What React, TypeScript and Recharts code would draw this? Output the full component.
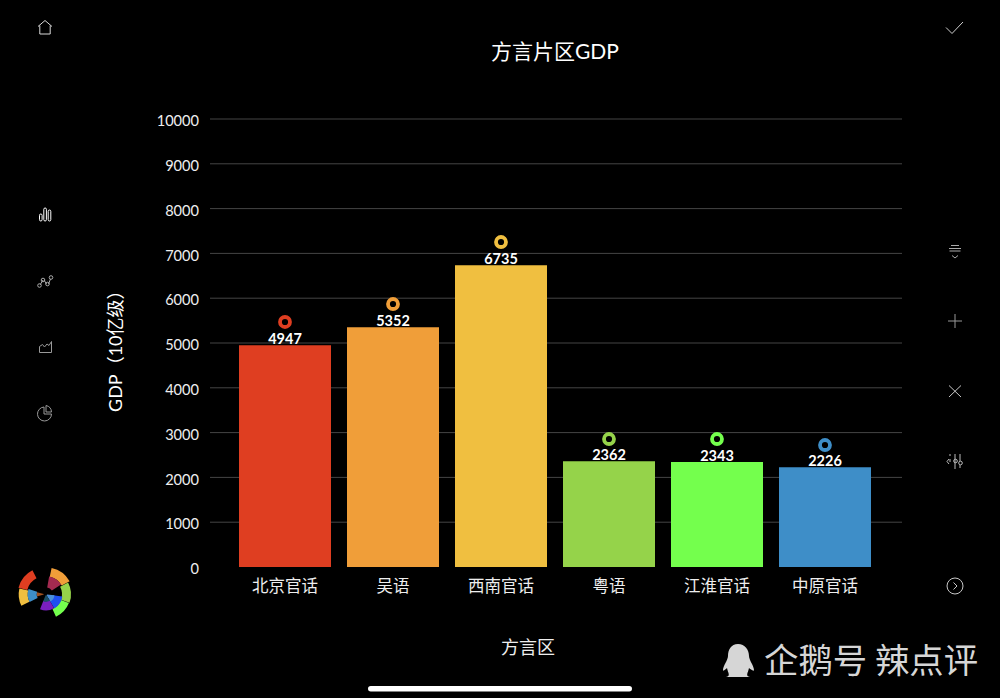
import React from 'react';
import { ComposedChart, Bar, Line, XAxis, YAxis, CartesianGrid, Cell, LabelList, Sector } from 'recharts';

const categories = ['北京官话', '吴语', '西南官话', '粤语', '江淮官话', '中原官话'];
const gdpValues = [4947, 5352, 6735, 2362, 2343, 2226];
const markerValues = [5469, 5870, 7254, 2857, 2857, 2723];
const barColors = ['#df3e21', '#f09e39', '#f0bf40', '#95d34a', '#74ff4d', '#3e8ec8'];
const yTicks = [0, 1000, 2000, 3000, 4000, 5000, 6000, 7000, 8000, 9000, 10000];
const gridValues = [1000, 2000, 3000, 4000, 5000, 6000, 7000, 8000, 9000, 10000];

const tableData = categories.map((name, i) => ({ name, gdp: gdpValues[i], marker: markerValues[i] }));

const FONT = "Lato, 'Noto Sans CJK SC', sans-serif";

const logoSectors = [
  { cx: 44.7, start: 117, end: 166, inner: 18, outer: 27, fill: '#df3e21' },
  { cx: 44.7, start: 167, end: 206, inner: 17, outer: 26, fill: '#f0bf40' },
  { cx: 44.7, start: 162, end: 207, inner: 8, outer: 17, fill: '#3e8ec8' },
  { cx: 44.7, start: 165, end: 196, inner: 1, outer: 8, fill: '#a0501f' },
  { cx: 46, start: 29, end: 78, inner: 18, outer: 27, fill: '#f09e39' },
  { cx: 46, start: -20, end: 28, inner: 16, outer: 25, fill: '#95d34a' },
  { cx: 46, start: -66, end: -21, inner: 16, outer: 24.5, fill: '#74ff4d' },
  { cx: 46, start: 33, end: 80, inner: 7, outer: 18, fill: '#a32a50' },
  { cx: 46, start: -60, end: -8, inner: 7, outer: 16.5, fill: '#1f50f0' },
  { cx: 46, start: -112, end: -60, inner: 7, outer: 16, fill: '#7a1fc0' },
  { cx: 46, start: -58, end: -6, inner: 1, outer: 8.5, fill: '#4a8fd8' },
  { cx: 46, start: -112, end: -60, inner: 1, outer: 7.5, fill: '#1b4f66' },
];

const iconStroke = { fill: 'none', stroke: '#d8d8d8', strokeWidth: 1 };

function Icons() {
  return (
    <svg width={1000} height={698} style={{ position: 'absolute', left: 0, top: 0 }}>
      <g {...iconStroke}>
        {/* home */}
        <path d="M38 26.5 L45 20.5 L52 26.5 M39.8 25.5 V34 H50.2 V25.5" />
        {/* check */}
        <path d="M946 27.5 L952 33.5 L963 22" stroke="#cfcfcf" />
        {/* bars */}
        <rect x={39.5} y={214} width={2.6} height={7} rx={1.3} stroke="#fff" />
        <rect x={43.8} y={208} width={2.6} height={13} rx={1.3} stroke="#fff" />
        <rect x={48.2} y={210} width={2.6} height={11} rx={1.3} stroke="#fff" />
        {/* line */}
        <path d="M40 285 L43 280 M44 280 L46.5 284 M48.5 284 L50.5 279" stroke="#aaa" />
        <circle cx={39.5} cy={285.5} r={1.8} stroke="#aaa" />
        <circle cx={43} cy={280} r={1.8} stroke="#aaa" />
        <circle cx={47.5} cy={284} r={1.8} stroke="#aaa" />
        <circle cx={51} cy={277.5} r={1.8} stroke="#aaa" />
        {/* area */}
        <path d="M39.5 352.5 V346.5 L42.5 344.5 L44.5 347 L47 344 L49 345.5 L51.5 341.5 V352.5 Z" stroke="#999" />
        {/* pie */}
        <path d="M44 407 A7 7 0 1 0 51.5 414 H44 Z" stroke="#999" />
        <path d="M46 405.5 A7 7 0 0 1 51.5 412 H46 Z" stroke="#999" />
        {/* right side */}
        <path d="M951 245.5 H959 M949 248.5 H961 M949.5 251 H960.5 M952 255.5 L955 258 L958 255.5" stroke="#aaa" />
        <path d="M948 321 H962 M955 314 V328" stroke="#999" />
        <path d="M949 385.5 L961 397 M961 385.5 L949 397" stroke="#c8c8c8" />
        <path d="M955 454 V469 M960 454 V461 M960 465 V468 M950 454 V456 M950 459 V462 M949 459 L947 461.5 L949 464" stroke="#bbb" />
        <circle cx={955.5} cy={461} r={1.8} stroke="#bbb" />
        <circle cx={960.5} cy={463} r={1.8} stroke="#bbb" />
        <circle cx={955} cy={586} r={8} stroke="#c8c8c8" />
        <path d="M953.5 582.5 L957 586 L953.5 589.5" stroke="#c8c8c8" />
      </g>
      <g>
        {logoSectors.map((s, i) => (
          <Sector
            key={i}
            cx={s.cx}
            cy={594.3}
            innerRadius={s.inner}
            outerRadius={s.outer}
            startAngle={s.start}
            endAngle={s.end}
            fill={s.fill}
          />
        ))}
      </g>
      <text x={555} y={59} textAnchor="middle" fill="#fff" fontSize={21} fontFamily={FONT}>方言片区GDP</text>
      <text x={528} y={654} textAnchor="middle" fill="#eee" fontSize={18} fontFamily={FONT}>方言区</text>
      {/* watermark */}
      <g fill="#d6d6d6">
        <path d="M738 643 C731 643 728 649 728 655 C728 659 723 665 723 669 C723 671 726 668 727 667 C728 672 731 675 726 676 H750 C745 675 748 672 749 667 C750 668 754 671 754 669 C754 665 749 659 749 655 C749 649 745 643 738 643 Z" transform="translate(0 1)" />
        <text x={764} y={673} fontSize={34.4} fontFamily="'Noto Sans CJK SC', sans-serif">企鹅号 辣点评</text>
      </g>
      <rect x={368} y={686} width={264} height={5.5} rx={2.75} fill="#fff" />
    </svg>
  );
}

const RingDot = (props: any) => {
  const { cx, cy, index } = props;
  return <circle key={index} cx={cx} cy={cy} r={5} fill="#000" stroke={barColors[index]} strokeWidth={3.8} />;
};

export default function App() {
  return (
    <div style={{ position: 'fixed', left: 0, top: 0, width: 1000, height: 698, background: '#000', overflow: 'hidden' }}>
      <ComposedChart
        width={1000}
        height={698}
        data={tableData}
        margin={{ top: 119, right: 98, bottom: 0, left: 100 }}
        style={{ position: 'absolute', left: 0, top: 0 }}
      >
        <CartesianGrid horizontal vertical={false} stroke="#454545" horizontalValues={gridValues} />
        <XAxis
          dataKey="name"
          height={131}
          padding={{ left: 21, right: 23 }}
          axisLine={false}
          tickLine={false}
          interval={0}
          tickMargin={7}
          tick={{ fill: '#eee', fontSize: 16.5, fontFamily: FONT }}
        />
        <YAxis
          width={110}
          domain={[0, 10000]}
          ticks={yTicks}
          axisLine={false}
          tickLine={false}
          tickMargin={5}
          tick={{ fill: '#eee', fontSize: 14.6, fontFamily: FONT, dy: 2 }}
          label={{
            value: 'GDP（10亿级）',
            angle: -90,
            position: 'insideLeft',
            offset: 16,
            dy: 69,
            fill: '#fff',
            fontSize: 18,
            fontFamily: FONT,
          }}
        />
        <Bar dataKey="gdp" barSize={92} isAnimationActive={false}>
          {tableData.map((d, i) => (
            <Cell key={d.name} fill={barColors[i]} />
          ))}
          <LabelList dataKey="gdp" position="top" offset={1} fill="#fff" fontSize={14.5} fontWeight={700} fontFamily={FONT} />
        </Bar>
        <Line dataKey="marker" stroke="none" isAnimationActive={false} dot={RingDot} activeDot={false} />
      </ComposedChart>
      <Icons />
    </div>
  );
}
